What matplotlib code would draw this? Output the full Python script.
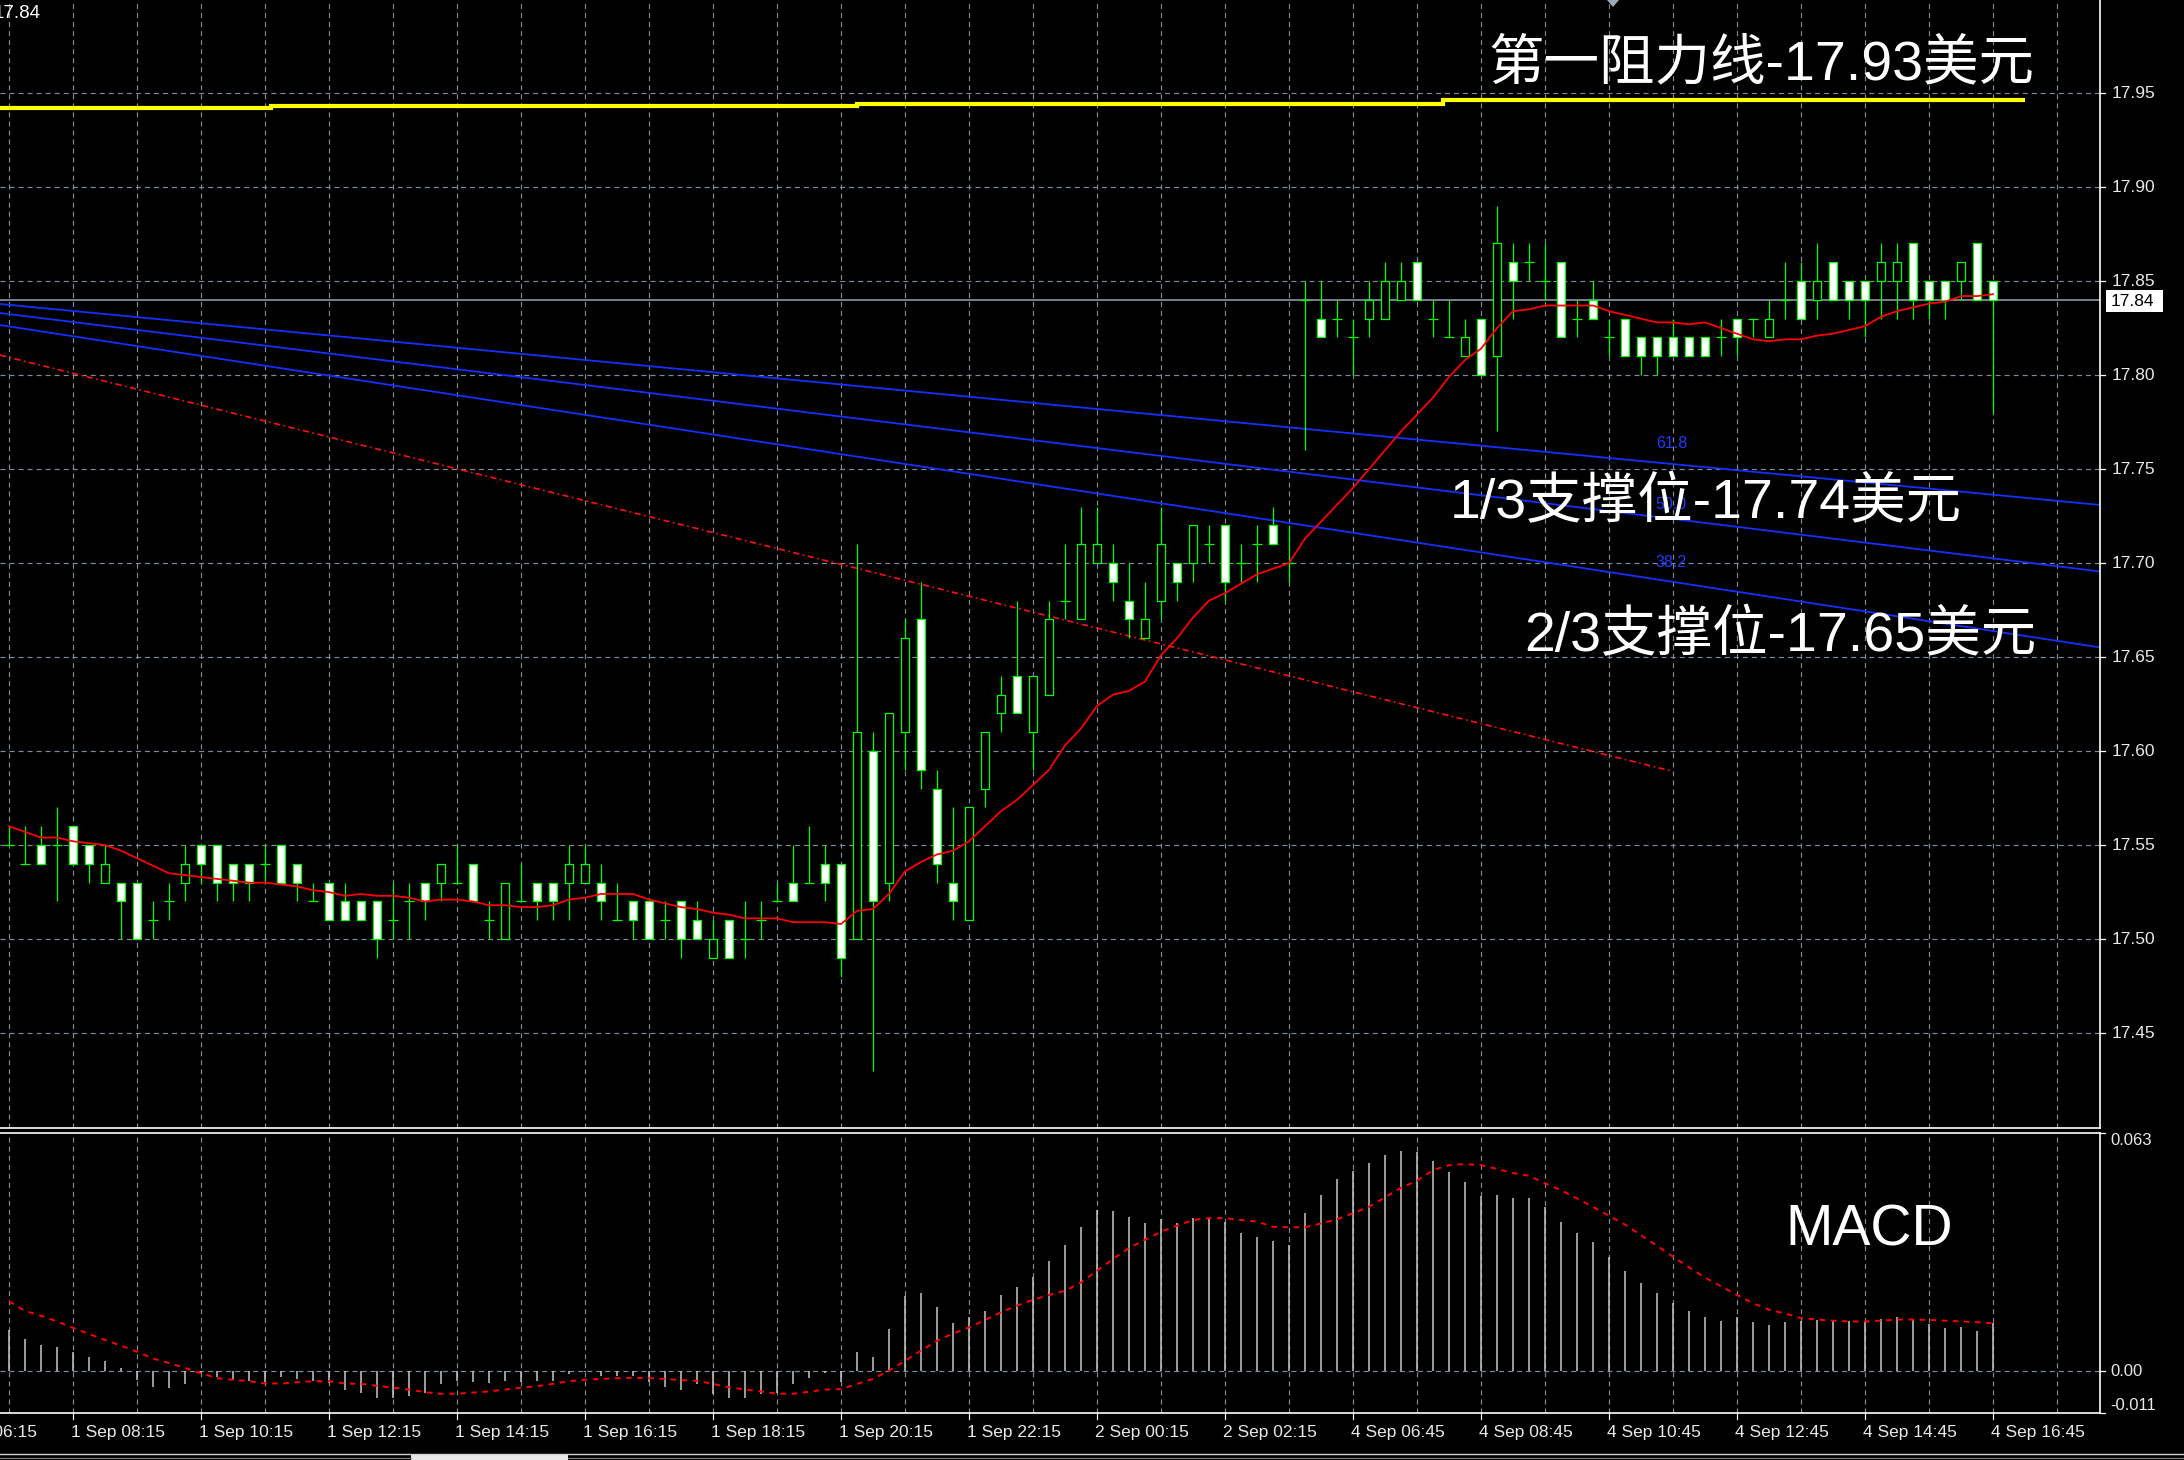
import matplotlib
matplotlib.use("Agg")
import matplotlib.pyplot as plt
from matplotlib.patches import Rectangle, Polygon
from matplotlib.lines import Line2D
from matplotlib.transforms import blended_transform_factory

plt.rcParams['lines.scale_dashes'] = False
plt.rcParams['font.family'] = ['Liberation Sans', 'Noto Sans CJK SC', 'DejaVu Sans']

W, H = 2184, 1460

# ---------------- 15-minute XAG/USD bars ----------------
opens = [17.55, 17.54, 17.55, 17.55, 17.56, 17.55, 17.53, 17.53, 17.53, 17.51,
         17.52, 17.53, 17.55, 17.55, 17.54, 17.54, 17.54, 17.55, 17.54, 17.52,
         17.53, 17.52, 17.52, 17.52, 17.51, 17.52, 17.53, 17.53, 17.53, 17.54,
         17.51, 17.50, 17.52, 17.53, 17.53, 17.53, 17.53, 17.53, 17.51, 17.52,
         17.52, 17.51, 17.52, 17.51, 17.49, 17.51, 17.50, 17.51, 17.52, 17.53,
         17.53, 17.54, 17.54, 17.50, 17.60, 17.53, 17.61, 17.67, 17.58, 17.53,
         17.51, 17.58, 17.62, 17.64, 17.61, 17.63, 17.68, 17.67, 17.70, 17.70,
         17.68, 17.66, 17.68, 17.70, 17.70, 17.71, 17.72, 17.70, 17.71, 17.72,
         17.70, 17.84, 17.83, 17.83, 17.82, 17.83, 17.83, 17.84, 17.86, 17.83,
         17.82, 17.81, 17.83, 17.81, 17.86, 17.86, 17.85, 17.86, 17.83, 17.84,
         17.82, 17.83, 17.82, 17.82, 17.82, 17.82, 17.82, 17.82, 17.83, 17.83,
         17.82, 17.84, 17.85, 17.84, 17.86, 17.85, 17.85, 17.85, 17.85, 17.87,
         17.85, 17.85, 17.85, 17.87, 17.85]
highs = [17.56, 17.56, 17.56, 17.57, 17.56, 17.55, 17.55, 17.53, 17.53, 17.52,
         17.53, 17.55, 17.55, 17.55, 17.54, 17.54, 17.55, 17.55, 17.54, 17.53,
         17.53, 17.53, 17.52, 17.52, 17.53, 17.53, 17.53, 17.54, 17.55, 17.54,
         17.52, 17.53, 17.54, 17.53, 17.53, 17.55, 17.55, 17.54, 17.53, 17.52,
         17.52, 17.52, 17.52, 17.52, 17.51, 17.51, 17.52, 17.52, 17.53, 17.55,
         17.56, 17.55, 17.54, 17.71, 17.61, 17.62, 17.67, 17.69, 17.59, 17.57,
         17.57, 17.61, 17.64, 17.68, 17.64, 17.68, 17.71, 17.73, 17.73, 17.71,
         17.70, 17.69, 17.73, 17.70, 17.72, 17.72, 17.72, 17.71, 17.72, 17.73,
         17.72, 17.85, 17.85, 17.84, 17.83, 17.85, 17.86, 17.86, 17.86, 17.84,
         17.84, 17.83, 17.83, 17.89, 17.87, 17.87, 17.87, 17.86, 17.84, 17.85,
         17.83, 17.83, 17.82, 17.82, 17.83, 17.82, 17.82, 17.83, 17.83, 17.83,
         17.84, 17.86, 17.86, 17.87, 17.86, 17.85, 17.85, 17.87, 17.87, 17.87,
         17.85, 17.85, 17.86, 17.87, 17.85]
lows = [17.55, 17.54, 17.54, 17.52, 17.54, 17.53, 17.53, 17.50, 17.50, 17.50,
        17.51, 17.52, 17.53, 17.52, 17.52, 17.52, 17.53, 17.53, 17.52, 17.52,
        17.51, 17.51, 17.51, 17.49, 17.50, 17.50, 17.51, 17.52, 17.53, 17.52,
        17.50, 17.50, 17.52, 17.51, 17.51, 17.51, 17.53, 17.51, 17.51, 17.50,
        17.50, 17.50, 17.49, 17.50, 17.49, 17.49, 17.49, 17.50, 17.52, 17.52,
        17.53, 17.52, 17.48, 17.50, 17.43, 17.52, 17.59, 17.58, 17.53, 17.51,
        17.51, 17.57, 17.61, 17.62, 17.59, 17.63, 17.67, 17.67, 17.70, 17.68,
        17.66, 17.66, 17.67, 17.68, 17.69, 17.70, 17.68, 17.69, 17.69, 17.71,
        17.69, 17.76, 17.82, 17.82, 17.80, 17.82, 17.83, 17.84, 17.84, 17.82,
        17.82, 17.81, 17.80, 17.77, 17.83, 17.85, 17.84, 17.82, 17.82, 17.83,
        17.81, 17.81, 17.80, 17.80, 17.81, 17.81, 17.81, 17.81, 17.81, 17.82,
        17.82, 17.83, 17.83, 17.83, 17.84, 17.83, 17.82, 17.83, 17.83, 17.83,
        17.83, 17.83, 17.84, 17.84, 17.78]
closes = [17.55, 17.54, 17.54, 17.55, 17.54, 17.54, 17.54, 17.52, 17.50, 17.51,
          17.52, 17.54, 17.54, 17.53, 17.53, 17.53, 17.54, 17.53, 17.53, 17.52,
          17.51, 17.51, 17.51, 17.50, 17.51, 17.52, 17.52, 17.54, 17.53, 17.52,
          17.51, 17.53, 17.52, 17.52, 17.52, 17.54, 17.54, 17.52, 17.51, 17.51,
          17.50, 17.51, 17.50, 17.50, 17.50, 17.49, 17.50, 17.51, 17.52, 17.52,
          17.53, 17.53, 17.49, 17.61, 17.52, 17.62, 17.66, 17.59, 17.54, 17.52,
          17.57, 17.61, 17.63, 17.62, 17.64, 17.67, 17.68, 17.71, 17.71, 17.69,
          17.67, 17.67, 17.71, 17.69, 17.72, 17.71, 17.69, 17.70, 17.71, 17.71,
          17.70, 17.84, 17.82, 17.83, 17.82, 17.84, 17.85, 17.85, 17.84, 17.83,
          17.82, 17.82, 17.80, 17.87, 17.85, 17.86, 17.85, 17.82, 17.83, 17.83,
          17.82, 17.81, 17.81, 17.81, 17.81, 17.81, 17.81, 17.82, 17.82, 17.83,
          17.83, 17.84, 17.83, 17.85, 17.84, 17.84, 17.84, 17.86, 17.86, 17.84,
          17.84, 17.84, 17.86, 17.84, 17.84]

# moving average drawn over the candles
ma_line = [17.560, 17.557, 17.554, 17.554, 17.552, 17.551, 17.550, 17.547, 17.543, 17.539,
           17.535, 17.534, 17.533, 17.532, 17.531, 17.530, 17.530, 17.529, 17.528, 17.526,
           17.525, 17.523, 17.524, 17.523, 17.523, 17.522, 17.520, 17.521, 17.521, 17.520,
           17.518, 17.518, 17.517, 17.517, 17.518, 17.521, 17.522, 17.524, 17.524, 17.524,
           17.521, 17.519, 17.517, 17.516, 17.514, 17.513, 17.511, 17.511, 17.511, 17.509,
           17.509, 17.509, 17.508, 17.515, 17.516, 17.524, 17.536, 17.541, 17.545, 17.547,
           17.552, 17.560, 17.568, 17.574, 17.582, 17.590, 17.603, 17.612, 17.624, 17.630,
           17.632, 17.637, 17.651, 17.660, 17.671, 17.680, 17.684, 17.689, 17.694, 17.697,
           17.700, 17.713, 17.722, 17.731, 17.740, 17.750, 17.760, 17.770, 17.779, 17.788,
           17.799, 17.808, 17.814, 17.825, 17.834, 17.835, 17.837, 17.837, 17.837, 17.837,
           17.834, 17.832, 17.830, 17.828, 17.828, 17.827, 17.828, 17.825, 17.822, 17.819,
           17.818, 17.819, 17.819, 17.821, 17.822, 17.824, 17.826, 17.831, 17.834, 17.836,
           17.838, 17.839, 17.842, 17.842, 17.843]

# MACD sub-window
macd_hist = [0.0110, 0.0085, 0.0070, 0.0065, 0.0050, 0.0039, 0.0028, 0.0009, -0.0023, -0.0040,
             -0.0044, -0.0033, -0.0004, -0.0016, -0.0023, -0.0025, -0.0029, -0.0016, -0.0020, -0.0025,
             -0.0031, -0.0049, -0.0056, -0.0070, -0.0070, -0.0065, -0.0056, -0.0033, -0.0026, -0.0029,
             -0.0032, -0.0025, -0.0029, -0.0026, -0.0026, -0.0007, -0.0002, -0.0011, -0.0011, -0.0011,
             -0.0029, -0.0041, -0.0049, -0.0033, -0.0060, -0.0070, -0.0070, -0.0060, -0.0056, -0.0033,
             -0.0018, -0.0005, -0.0029, 0.0050, 0.0039, 0.0113, 0.0198, 0.0207, 0.0171, 0.0129,
             0.0143, 0.0160, 0.0203, 0.0224, 0.0250, 0.0292, 0.0335, 0.0382, 0.0426, 0.0425,
             0.0409, 0.0393, 0.0403, 0.0391, 0.0405, 0.0405, 0.0396, 0.0366, 0.0356, 0.0345,
             0.0334, 0.0419, 0.0467, 0.0508, 0.0530, 0.0551, 0.0573, 0.0583, 0.0581, 0.0557,
             0.0526, 0.0500, 0.0463, 0.0467, 0.0457, 0.0457, 0.0435, 0.0394, 0.0366, 0.0341,
             0.0303, 0.0266, 0.0234, 0.0208, 0.0181, 0.0160, 0.0144, 0.0134, 0.0144, 0.0130,
             0.0123, 0.0130, 0.0134, 0.0136, 0.0136, 0.0132, 0.0134, 0.0138, 0.0144, 0.0138,
             0.0125, 0.0114, 0.0118, 0.0107, 0.0127]
macd_signal = [0.0185, 0.0160, 0.0147, 0.0132, 0.0115, 0.0099, 0.0083, 0.0068, 0.0052, 0.0034,
               0.0022, 0.0009, -0.0005, -0.0018, -0.0022, -0.0026, -0.0032, -0.0032, -0.0029, -0.0026,
               -0.0026, -0.0032, -0.0033, -0.0038, -0.0043, -0.0048, -0.0055, -0.0059, -0.0059, -0.0056,
               -0.0053, -0.0048, -0.0043, -0.0039, -0.0033, -0.0026, -0.0022, -0.0020, -0.0018, -0.0017,
               -0.0018, -0.0020, -0.0023, -0.0025, -0.0033, -0.0042, -0.0048, -0.0053, -0.0059, -0.0059,
               -0.0054, -0.0048, -0.0047, -0.0033, -0.0020, 0.0002, 0.0028, 0.0055, 0.0081, 0.0100,
               0.0116, 0.0136, 0.0156, 0.0174, 0.0189, 0.0202, 0.0213, 0.0235, 0.0266, 0.0297,
               0.0326, 0.0348, 0.0369, 0.0385, 0.0400, 0.0405, 0.0405, 0.0400, 0.0396, 0.0382,
               0.0381, 0.0381, 0.0391, 0.0402, 0.0418, 0.0435, 0.0460, 0.0485, 0.0504, 0.0532,
               0.0545, 0.0548, 0.0545, 0.0535, 0.0524, 0.0517, 0.0497, 0.0479, 0.0457, 0.0435,
               0.0411, 0.0388, 0.0360, 0.0332, 0.0303, 0.0275, 0.0248, 0.0225, 0.0202, 0.0180,
               0.0163, 0.0153, 0.0141, 0.0137, 0.0134, 0.0132, 0.0132, 0.0134, 0.0137, 0.0137,
               0.0136, 0.0134, 0.0132, 0.0130, 0.0127]

price_ticks = [17.95, 17.90, 17.85, 17.80, 17.75, 17.70, 17.65, 17.60, 17.55, 17.50, 17.45]
price_tick_labels = ["17.95", "17.90", "17.85", "17.80", "17.75", "17.70",
                     "17.65", "17.60", "17.55", "17.50", "17.45"]
last_price = 17.84
last_price_label = "17.84"

macd_tick_values = [0.063, 0.0, -0.011]
macd_tick_labels = ["0.063", "0.00", "-0.011"]

time_label_bars = [-4, 4, 12, 20, 28, 36, 44, 52, 60, 68, 76, 84, 92, 100, 108, 116, 124]
time_labels = ["1 Sep 06:15", "1 Sep 08:15", "1 Sep 10:15", "1 Sep 12:15", "1 Sep 14:15",
               "1 Sep 16:15", "1 Sep 18:15", "1 Sep 20:15", "1 Sep 22:15", "2 Sep 00:15",
               "2 Sep 02:15", "4 Sep 06:45", "4 Sep 08:45", "4 Sep 10:45", "4 Sep 12:45",
               "4 Sep 14:45", "4 Sep 16:45"]

# resistance line (stepped) and Fibonacci fan
resistance_edges = [-0.56, 16.4, 53.0, 89.6, 126.0]
resistance_levels = [17.9422, 17.9431, 17.9441, 17.9463]
fan_x = [-0.56, 130.7]
fan_618 = [17.8378, 17.7309]
fan_500 = [17.8330, 17.6955]
fan_382 = [17.8266, 17.6551]
fan_texts = ["61.8", "50.0", "38.2"]
fan_text_prices = [17.7638, 17.7309, 17.7005]
fan_text_bar = 103.9
base_x = [-0.56, 103.9]
base_y = [17.8106, 17.5894]

annotations = ["第一阻力线-17.93美元", "1/3支撑位-17.74美元", "2/3支撑位-17.65美元"]

# ---------------- styling ----------------
GREEN = '#00FF00'
GRID = '#7D8C9C'
TXT = '#E8E8E8'
GRID_DASH = (0, (3.6, 2.9))


def fx(px):
    return px / W


def fy(py):
    return 1 - py / H


fig = plt.figure(figsize=(W / 100, H / 100), dpi=100, facecolor='black')
ax = fig.add_axes([0, fy(1128), 2100 / W, 1128 / H], facecolor='black')
ax2 = fig.add_axes([0, fy(1413), 2100 / W, (1413 - 1133) / H], facecolor='black')

XLIM = (-0.5625, 130.6875)
for a in (ax, ax2):
    a.set_xlim(*XLIM)
    a.set_xticks([])
    a.set_yticks([])
    for s in a.spines.values():
        s.set_visible(False)
    for x in range(0, 129, 4):
        a.axvline(x, color=GRID, lw=0.85, ls=GRID_DASH, zorder=1)

ax.set_ylim(17.3995, 17.9995)
ax2.set_ylim(-0.011, 0.063)

for name in ('right', 'bottom'):
    ax.spines[name].set_visible(True)
    ax.spines[name].set_color('white')
    ax.spines[name].set_linewidth(1.2)
for name in ('right', 'bottom', 'top'):
    ax2.spines[name].set_visible(True)
    ax2.spines[name].set_color('white')
    ax2.spines[name].set_linewidth(1.2)

for p in price_ticks:
    ax.axhline(p, color=GRID, lw=0.85, ls=GRID_DASH, zorder=1)
ax2.axhline(0.0, color=GRID, lw=0.85, ls=GRID_DASH, zorder=1)

# last price line
ax.axhline(last_price, color='#8A98A8', lw=1.2, zorder=2)

# resistance line
ax.stairs(resistance_levels, resistance_edges, baseline=None, color='#FFFF00', lw=3.0, zorder=3)

# Fibonacci fan and its base line
for vals in (fan_618, fan_500, fan_382):
    ax.plot(fan_x, vals, color='#1430FF', lw=1.3, zorder=2)
ax.plot(base_x, base_y, color='#FF1010', lw=1.2, ls=(0, (4.5, 2.5, 1.2, 2.5)), zorder=2)
for t, p in zip(fan_texts, fan_text_prices):
    ax.text(fan_text_bar, p, t, color='#1E3CFF', fontsize=11.5, ha='center', va='center', zorder=2)

# candles
bw = 0.5
dw = 0.6
for i, (o, h, l, c) in enumerate(zip(opens, highs, lows, closes)):
    if h > l:
        ax.vlines(i, l, h, color=GREEN, lw=0.9, zorder=3)
    if c > o:
        ax.add_patch(Rectangle((i - bw / 2, o), bw, c - o, facecolor='black',
                               edgecolor=GREEN, lw=0.9, zorder=4))
    elif c < o:
        ax.add_patch(Rectangle((i - bw / 2, c), bw, o - c, facecolor='white',
                               edgecolor=GREEN, lw=0.9, zorder=4))
    else:
        ax.hlines(o, i - dw / 2, i + dw / 2, color=GREEN, lw=0.9, zorder=4)

ax.plot(range(len(ma_line)), ma_line, color='#FF0000', lw=1.3, zorder=5)

# MACD histogram and signal
ax2.vlines(range(len(macd_hist)), 0, macd_hist, color='#C8C8C8', lw=1.1, zorder=3)
ax2.plot(range(len(macd_signal)), macd_signal, color='#FF0000', lw=1.4,
         ls=(0, (4, 4)), zorder=4)

# price scale
trans = blended_transform_factory(fig.transFigure, ax.transData)
for p, lab in zip(price_ticks, price_tick_labels):
    ax.text(fx(2112), p, lab, transform=trans, color=TXT, fontsize=12.5,
            ha='left', va='center', clip_on=False)
    ax.add_line(Line2D([fx(2100), fx(2105)], [p, p], transform=trans, color='white',
                       lw=0.9, clip_on=False))
fig.add_artist(Rectangle((fx(2106), fy(312)), 57 / W, 22 / H, transform=fig.transFigure,
                         facecolor='white', edgecolor='none'))
fig.text(fx(2111), fy(301), last_price_label, color='black', fontsize=12.5,
         ha='left', va='center')

# MACD scale
trans2 = blended_transform_factory(fig.transFigure, ax2.transData)
for v, lab, va in zip(macd_tick_values, macd_tick_labels, ['top', 'center', 'bottom']):
    ax2.text(fx(2110), v, lab, transform=trans2, color=TXT, fontsize=12,
             ha='left', va=va, clip_on=False)
    ax2.add_line(Line2D([fx(2100), fx(2105)], [v, v], transform=trans2, color='white',
                        lw=0.9, clip_on=False))

# time scale
for b, lab in zip(time_label_bars, time_labels):
    px = 9 + 16 * b
    fig.add_artist(Line2D([fx(px), fx(px)], [fy(1413), fy(1419)], color='white', lw=0.9))
    fig.text(fx(px - 2), fy(1432), lab, color=TXT, fontsize=12.5, ha='left', va='center')

# window frame at the bottom
fig.add_artist(Line2D([0, 1], [fy(1454), fy(1454)], color='#D0D0D0', lw=1.0))
fig.add_artist(Line2D([0, fx(411)], [fy(1457.5), fy(1457.5)], color='#808080', lw=0.8))
fig.add_artist(Line2D([fx(568), 1], [fy(1457.5), fy(1457.5)], color='#808080', lw=0.8))
fig.add_artist(Rectangle((fx(411), 0), fx(568) - fx(411), 5 / H, transform=fig.transFigure,
                         facecolor='#E8E8E8', edgecolor='none'))

# chart-shift marker and header value
fig.add_artist(Polygon([[fx(1607), fy(0)], [fx(1619), fy(0)], [fx(1613), fy(7)]],
                       closed=True, transform=fig.transFigure, facecolor='#9AAABB',
                       edgecolor='none'))
fig.text(fx(41), fy(13), last_price_label, color='white', fontsize=13.5,
         ha='right', va='center')

# annotations
fig.text(fx(1488), fy(79), annotations[0], color='white', fontsize=40,
         ha='left', va='baseline')
fig.text(fx(1450), fy(518), annotations[1], color='white', fontsize=40,
         ha='left', va='baseline')
fig.text(fx(1524), fy(651), annotations[2], color='white', fontsize=40,
         ha='left', va='baseline')
fig.text(fx(1785), fy(1246), "MACD", color='white', fontsize=41,
         ha='left', va='baseline')

fig.savefig('out.png', dpi=100, facecolor='black')
